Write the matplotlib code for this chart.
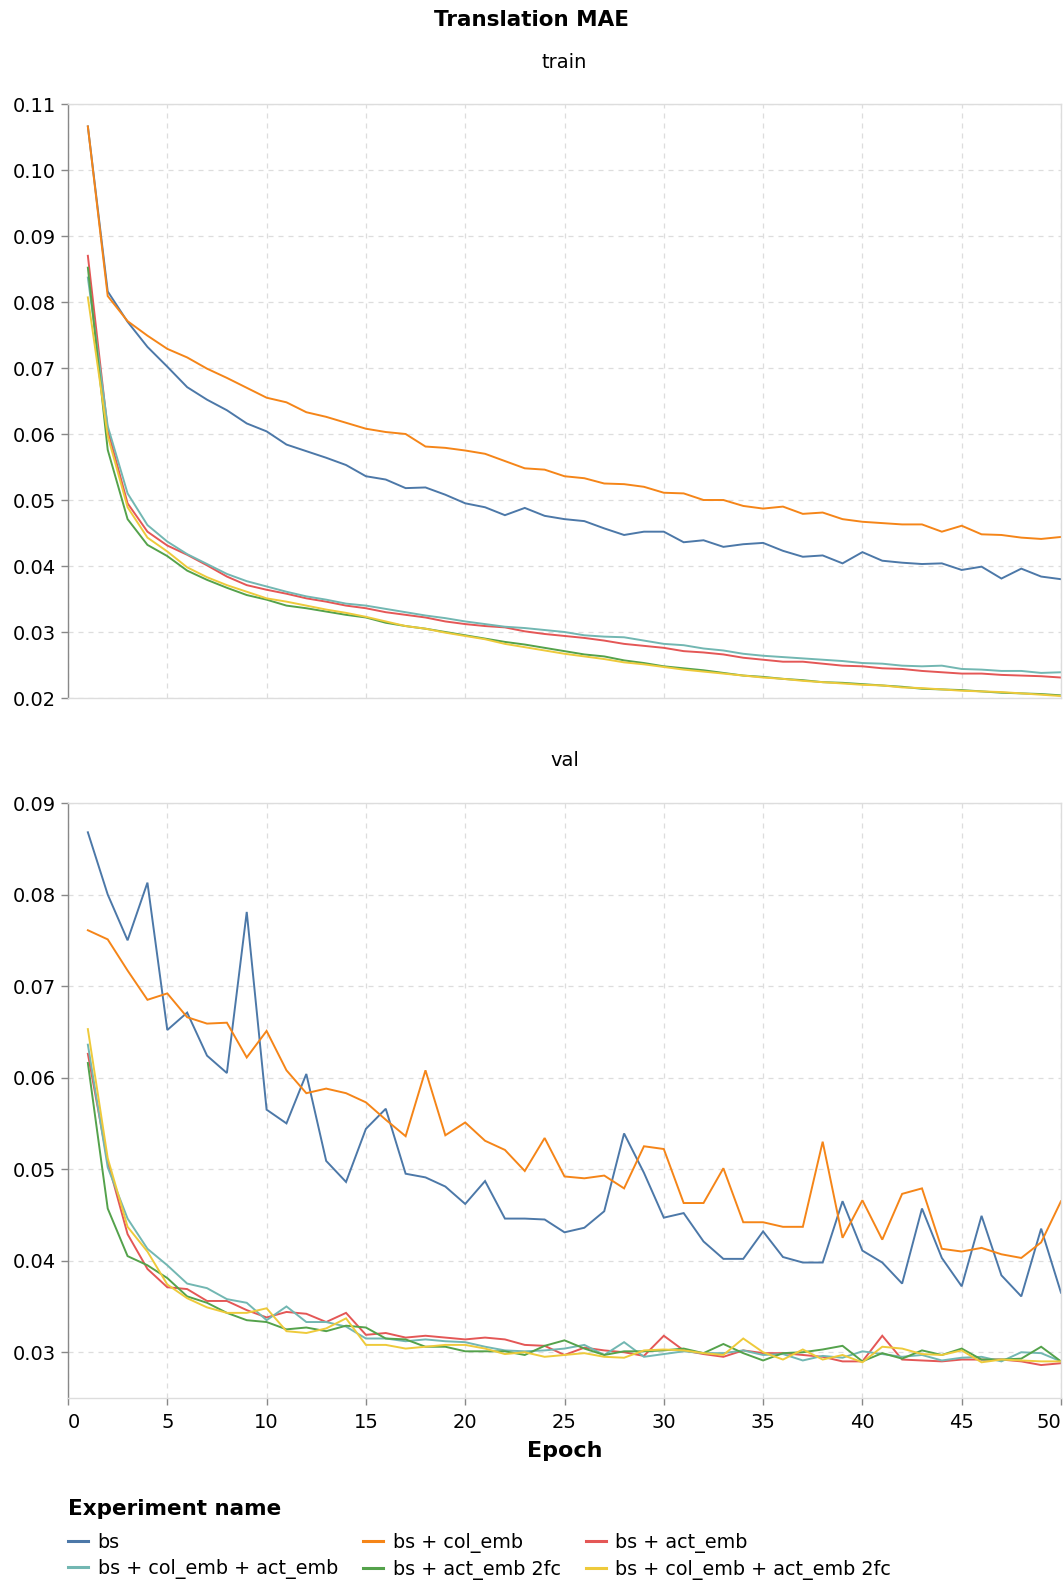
import matplotlib
matplotlib.use("Agg")
import matplotlib.pyplot as plt
from matplotlib.lines import Line2D
import numpy as np

plt.rcParams['font.family'] = ['DejaVu Sans']

epochs = list(range(1, 51))
series_names = ["bs", "bs + col_emb", "bs + act_emb", "bs + col_emb + act_emb",
                "bs + act_emb 2fc", "bs + col_emb + act_emb 2fc"]
colors = ["#4c78a8", "#f58518", "#e45756", "#72b7b2", "#54a24b", "#eeca3b"]

train_bs = [0.1066, 0.0816, 0.0770, 0.0732, 0.0702, 0.0671, 0.0652, 0.0636, 0.0616, 0.0604,
            0.0584, 0.0574, 0.0564, 0.0553, 0.0536, 0.0531, 0.0518, 0.0519, 0.0508, 0.0495,
            0.0489, 0.0477, 0.0488, 0.0476, 0.0471, 0.0468, 0.0457, 0.0447, 0.0452, 0.0452,
            0.0436, 0.0439, 0.0429, 0.0433, 0.0435, 0.0423, 0.0414, 0.0416, 0.0404, 0.0421,
            0.0408, 0.0405, 0.0403, 0.0404, 0.0394, 0.0399, 0.0381, 0.0396, 0.0384, 0.0380]
train_col = [0.1066, 0.0809, 0.0771, 0.0749, 0.0729, 0.0716, 0.0699, 0.0685, 0.0670, 0.0655,
             0.0648, 0.0633, 0.0626, 0.0617, 0.0608, 0.0603, 0.0600, 0.0581, 0.0579, 0.0575,
             0.0570, 0.0559, 0.0548, 0.0546, 0.0536, 0.0533, 0.0525, 0.0524, 0.0520, 0.0511,
             0.0510, 0.0500, 0.0500, 0.0491, 0.0487, 0.0490, 0.0479, 0.0481, 0.0471, 0.0467,
             0.0465, 0.0463, 0.0463, 0.0452, 0.0461, 0.0448, 0.0447, 0.0443, 0.0441, 0.0444]
train_act = [0.0870, 0.0606, 0.0495, 0.0452, 0.0431, 0.0417, 0.0401, 0.0384, 0.0371, 0.0364,
             0.0358, 0.0351, 0.0346, 0.0340, 0.0336, 0.0330, 0.0326, 0.0322, 0.0316, 0.0312,
             0.0309, 0.0307, 0.0301, 0.0297, 0.0294, 0.0291, 0.0287, 0.0282, 0.0279, 0.0276,
             0.0271, 0.0269, 0.0266, 0.0261, 0.0258, 0.0255, 0.0255, 0.0252, 0.0249, 0.0248,
             0.0245, 0.0244, 0.0241, 0.0239, 0.0237, 0.0237, 0.0235, 0.0234, 0.0233, 0.0231]
train_colact = [0.0837, 0.0612, 0.0510, 0.0462, 0.0437, 0.0418, 0.0403, 0.0388, 0.0377, 0.0369,
                0.0361, 0.0354, 0.0349, 0.0343, 0.0340, 0.0335, 0.0330, 0.0325, 0.0321, 0.0316,
                0.0312, 0.0308, 0.0306, 0.0303, 0.0300, 0.0295, 0.0293, 0.0292, 0.0287, 0.0282,
                0.0280, 0.0275, 0.0272, 0.0267, 0.0264, 0.0262, 0.0260, 0.0258, 0.0256, 0.0253,
                0.0252, 0.0249, 0.0248, 0.0249, 0.0244, 0.0243, 0.0241, 0.0241, 0.0238, 0.0239]
train_act2fc = [0.0852, 0.0576, 0.0471, 0.0432, 0.0415, 0.0393, 0.0379, 0.0367, 0.0356, 0.0349,
                0.0340, 0.0336, 0.0331, 0.0326, 0.0322, 0.0314, 0.0309, 0.0305, 0.0300, 0.0295,
                0.0290, 0.0285, 0.0281, 0.0276, 0.0271, 0.0266, 0.0263, 0.0257, 0.0253, 0.0248,
                0.0245, 0.0242, 0.0238, 0.0234, 0.0232, 0.0229, 0.0227, 0.0224, 0.0223, 0.0221,
                0.0219, 0.0217, 0.0214, 0.0213, 0.0212, 0.0210, 0.0208, 0.0207, 0.0206, 0.0204]
train_colact2fc = [0.0807, 0.0597, 0.0489, 0.0443, 0.0422, 0.0398, 0.0383, 0.0371, 0.0361, 0.0351,
                   0.0346, 0.0340, 0.0334, 0.0329, 0.0323, 0.0316, 0.0309, 0.0305, 0.0299, 0.0294,
                   0.0289, 0.0282, 0.0277, 0.0272, 0.0267, 0.0263, 0.0259, 0.0254, 0.0251, 0.0247,
                   0.0243, 0.0240, 0.0237, 0.0234, 0.0231, 0.0229, 0.0226, 0.0224, 0.0222, 0.0220,
                   0.0219, 0.0216, 0.0215, 0.0213, 0.0211, 0.0210, 0.0209, 0.0207, 0.0205, 0.0203]

val_bs = [0.0868, 0.0800, 0.0750, 0.0813, 0.0652, 0.0671, 0.0624, 0.0605, 0.0781, 0.0565,
          0.0550, 0.0604, 0.0509, 0.0486, 0.0544, 0.0566, 0.0495, 0.0491, 0.0481, 0.0462,
          0.0487, 0.0446, 0.0446, 0.0445, 0.0431, 0.0436, 0.0454, 0.0539, 0.0496, 0.0447,
          0.0452, 0.0421, 0.0402, 0.0402, 0.0432, 0.0404, 0.0398, 0.0398, 0.0465, 0.0411,
          0.0398, 0.0375, 0.0457, 0.0403, 0.0372, 0.0449, 0.0384, 0.0361, 0.0435, 0.0365]
val_col = [0.0761, 0.0751, 0.0717, 0.0685, 0.0692, 0.0666, 0.0659, 0.0660, 0.0622, 0.0651,
           0.0608, 0.0583, 0.0588, 0.0583, 0.0573, 0.0554, 0.0536, 0.0608, 0.0537, 0.0551,
           0.0531, 0.0521, 0.0498, 0.0534, 0.0492, 0.0490, 0.0493, 0.0479, 0.0525, 0.0522,
           0.0463, 0.0463, 0.0501, 0.0442, 0.0442, 0.0437, 0.0437, 0.0530, 0.0425, 0.0466,
           0.0423, 0.0473, 0.0479, 0.0413, 0.0410, 0.0414, 0.0407, 0.0403, 0.0420, 0.0465]
val_act = [0.0626, 0.0508, 0.0429, 0.0391, 0.0371, 0.0369, 0.0356, 0.0356, 0.0346, 0.0338,
           0.0344, 0.0342, 0.0333, 0.0343, 0.0319, 0.0321, 0.0316, 0.0318, 0.0316, 0.0314,
           0.0316, 0.0314, 0.0308, 0.0307, 0.0297, 0.0305, 0.0302, 0.0300, 0.0296, 0.0318,
           0.0302, 0.0298, 0.0295, 0.0302, 0.0299, 0.0299, 0.0297, 0.0295, 0.0290, 0.0290,
           0.0318, 0.0292, 0.0291, 0.0290, 0.0292, 0.0292, 0.0292, 0.0290, 0.0286, 0.0288]
val_colact = [0.0636, 0.0502, 0.0446, 0.0413, 0.0395, 0.0375, 0.0370, 0.0358, 0.0354, 0.0335,
              0.0350, 0.0333, 0.0333, 0.0328, 0.0315, 0.0315, 0.0312, 0.0314, 0.0312, 0.0311,
              0.0306, 0.0302, 0.0301, 0.0302, 0.0304, 0.0308, 0.0297, 0.0311, 0.0295, 0.0298,
              0.0301, 0.0299, 0.0299, 0.0302, 0.0297, 0.0298, 0.0291, 0.0296, 0.0294, 0.0301,
              0.0298, 0.0295, 0.0297, 0.0291, 0.0294, 0.0295, 0.0290, 0.0300, 0.0299, 0.0290]
val_act2fc = [0.0616, 0.0457, 0.0405, 0.0395, 0.0381, 0.0361, 0.0354, 0.0343, 0.0335, 0.0333,
              0.0325, 0.0327, 0.0323, 0.0329, 0.0327, 0.0315, 0.0314, 0.0306, 0.0306, 0.0301,
              0.0301, 0.0301, 0.0297, 0.0307, 0.0313, 0.0304, 0.0297, 0.0301, 0.0301, 0.0302,
              0.0304, 0.0299, 0.0309, 0.0299, 0.0291, 0.0299, 0.0300, 0.0303, 0.0307, 0.0290,
              0.0299, 0.0293, 0.0302, 0.0297, 0.0304, 0.0292, 0.0292, 0.0293, 0.0306, 0.0290]
val_colact2fc = [0.0653, 0.0512, 0.0437, 0.0410, 0.0374, 0.0359, 0.0349, 0.0343, 0.0343, 0.0348,
                 0.0323, 0.0321, 0.0326, 0.0337, 0.0308, 0.0308, 0.0304, 0.0306, 0.0308, 0.0308,
                 0.0304, 0.0298, 0.0300, 0.0295, 0.0297, 0.0299, 0.0295, 0.0294, 0.0302, 0.0303,
                 0.0302, 0.0299, 0.0297, 0.0315, 0.0300, 0.0292, 0.0303, 0.0292, 0.0297, 0.0289,
                 0.0306, 0.0304, 0.0298, 0.0297, 0.0302, 0.0289, 0.0292, 0.0291, 0.0290, 0.0290]

train_series = [train_bs, train_col, train_act, train_colact, train_act2fc, train_colact2fc]
val_series = [val_bs, val_col, val_act, val_colact, val_act2fc, val_colact2fc]

train_yticks = [0.02, 0.03, 0.04, 0.05, 0.06, 0.07, 0.08, 0.09, 0.10, 0.11]
val_yticks = [0.03, 0.04, 0.05, 0.06, 0.07, 0.08, 0.09]
xticks = list(range(0, 51, 5))

W, H = 1064, 1580
fig = plt.figure(figsize=(W / 100, H / 100), dpi=100)

def px_axes(left, top, right, bottom):
    return fig.add_axes([left / W, 1 - bottom / H, (right - left) / W, (bottom - top) / H])

ax_train = px_axes(68, 104, 1061, 698)
ax_val = px_axes(68, 803, 1061, 1398)

grid_col = "#dddddd"
axis_col = "#888888"

def style(ax, ylim, yticks, show_x):
    ax.set_xlim(0, 50)
    ax.set_ylim(*ylim)
    ax.set_yticks(yticks)
    ax.set_yticklabels([f"{v:.2f}" for v in yticks])
    ax.set_xticks(xticks)
    ax.grid(True, color=grid_col, linestyle=(0, (4, 4)), linewidth=0.9)
    ax.set_axisbelow(True)
    for s in ["top", "right", "bottom"]:
        ax.spines[s].set_color(grid_col)
        ax.spines[s].set_linewidth(1.0)
    ax.spines["left"].set_color(axis_col)
    ax.spines["left"].set_linewidth(1.0)
    ax.tick_params(axis="y", length=5, width=1, color=axis_col, pad=3.5,
                   labelsize=14, labelcolor="black")
    if show_x:
        ax.tick_params(axis="x", length=5, width=1, color=axis_col, pad=6,
                       labelsize=14, labelcolor="black")
        ax.set_xticklabels([str(t) for t in xticks])
        labels = ax.get_xticklabels()
        labels[0].set_ha("left")
        labels[-1].set_ha("right")
    else:
        ax.tick_params(axis="x", length=0, labelbottom=False)

for ax, series in [(ax_train, train_series), (ax_val, val_series)]:
    for name, vals, c in zip(series_names, series, colors):
        ax.plot(epochs, vals, color=c, linewidth=1.4, label=name, solid_joinstyle="miter")

style(ax_train, (0.02, 0.11), train_yticks, False)
style(ax_val, (0.025, 0.09), val_yticks, True)

cx = (68 + 1061) / 2 / W
fig.text(0.5, 1 - 20 / H, "Translation MAE", ha="center", va="center",
         fontsize=15.5, fontweight="bold")
fig.text(cx, 1 - 62 / H, "train", ha="center", va="center", fontsize=14)
fig.text(cx, 1 - 761 / H, "val", ha="center", va="center", fontsize=14)
fig.text(cx, 1 - 1451 / H, "Epoch", ha="center", va="center", fontsize=16, fontweight="bold")

# legend title as text, entries via legend (row-major order in reference)
fig.text(68 / W, 1 - 1509 / H, "Experiment name", ha="left", va="center",
         fontsize=15.5, fontweight="bold")
handles = [Line2D([0], [0], color=c, linewidth=2.2) for c in colors]
order = [0, 3, 1, 4, 2, 5]
leg = fig.legend([handles[i] for i in order], [series_names[i] for i in order],
                 ncol=3, loc="upper left", bbox_to_anchor=(68 / W, 1 - 1533 / H),
                 frameon=False, fontsize=13.8,
                 borderpad=0, handlelength=1.05, handletextpad=0.5,
                 columnspacing=1.3, labelspacing=0.36, borderaxespad=0)

fig.savefig("out.png", dpi=100)
